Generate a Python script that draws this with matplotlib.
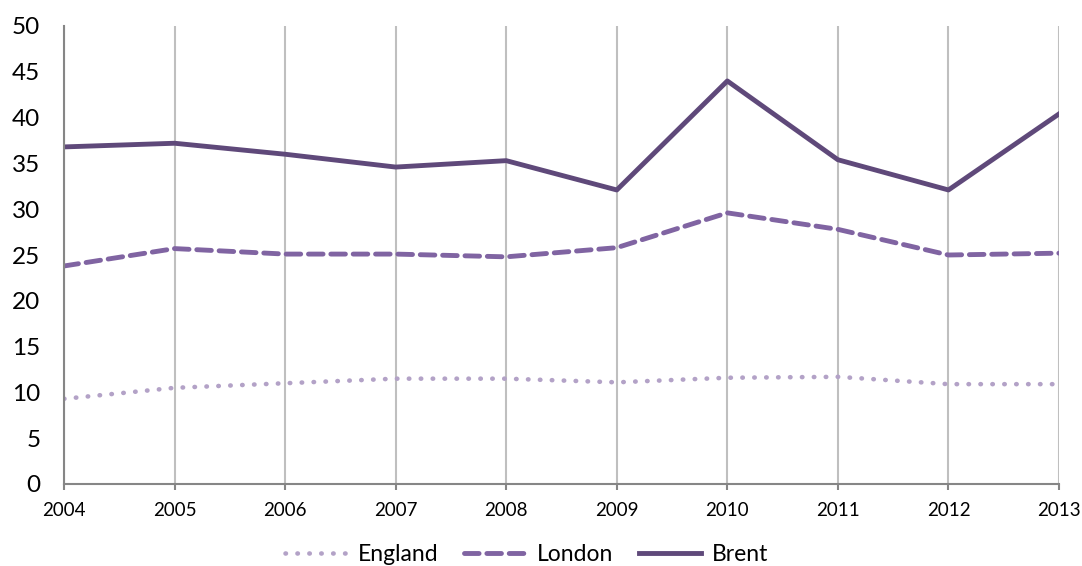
import matplotlib.pyplot as plt

years = [2004, 2005, 2006, 2007, 2008, 2009, 2010, 2011, 2012, 2013]
england = [9.3, 10.5, 11.0, 11.5, 11.5, 11.1, 11.6, 11.7, 10.9, 10.9]
london = [23.8, 25.7, 25.1, 25.1, 24.8, 25.8, 29.6, 27.8, 25.0, 25.2]
brent = [36.8, 37.2, 36.0, 34.6, 35.3, 32.1, 44.0, 35.4, 32.1, 40.4]

plt.rcParams['font.family'] = ['Lato', 'DejaVu Sans']

fig = plt.figure(figsize=(10.82, 5.66), dpi=100)
ax = fig.add_axes([64 / 1082, 1 - 484 / 566, (1059 - 64) / 1082, (484 - 26) / 566])

ax.plot(years, england, color='#B3A2C7', lw=3.3, linestyle=(0, (0.1, 2.5)),
        dash_capstyle='round', label='England')
ax.plot(years, london, color='#8064A2', lw=3.5, linestyle=(0, (3, 1.6)),
        dash_capstyle='round', label='London')
ax.plot(years, brent, color='#5F497A', lw=3.5, label='Brent')

ax.set_xlim(2004, 2013)
ax.set_ylim(0, 50)
ax.set_xticks(years)
ax.set_yticks(range(0, 51, 5))

# grid
ax.grid(True, axis='x', color='#BFBFBF', lw=1.5)
ax.grid(False, axis='y')
ax.set_axisbelow(True)

for side in ['top', 'right']:
    ax.spines[side].set_visible(False)
for side in ['left', 'bottom']:
    ax.spines[side].set_color('#868686')
    ax.spines[side].set_linewidth(1.5)

ax.tick_params(axis='y', length=0, labelsize=17.5, pad=17)
ax.tick_params(axis='x', length=4, width=1.5, color='#868686',
               labelsize=13.5, pad=9)

ax.legend(loc='center', bbox_to_anchor=(0.465, -0.155), ncol=3,
          frameon=False, fontsize=16.5, handlelength=2.7, columnspacing=1.1,
          handletextpad=0.5, borderpad=0)

fig.savefig('out.png', dpi=100)
